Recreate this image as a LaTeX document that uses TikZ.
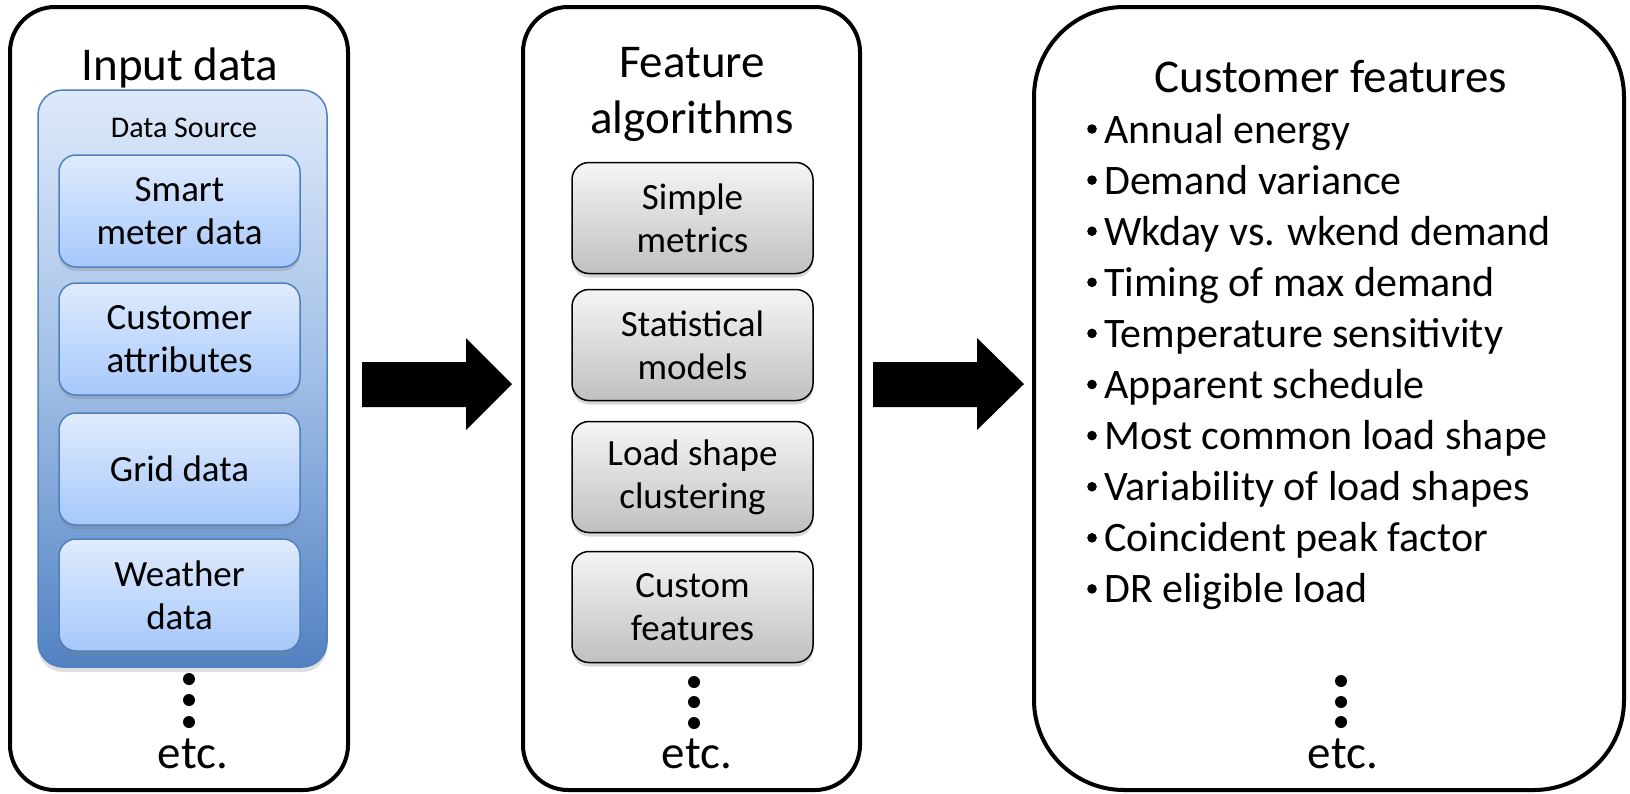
\documentclass[tikz,border=0pt]{standalone}
\usepackage{fontspec}
\setmainfont{Carlito}
\usetikzlibrary{shadows}
\definecolor{dsTop}{RGB}{222,233,250}
\definecolor{dsMid}{RGB}{160,190,230}
\definecolor{dsBot}{RGB}{82,130,195}
\definecolor{dsLine}{RGB}{79,129,189}
\definecolor{inTop}{RGB}{224,235,253}
\definecolor{inBot}{RGB}{166,200,250}
\definecolor{grTop}{RGB}{245,245,245}
\definecolor{grBot}{RGB}{192,192,192}
\begin{document}
\begin{tikzpicture}[x=1pt,y=-1pt,
  panel/.style={draw=black, line width=4pt, fill=white, minimum width=#1,
    minimum height=783pt, inner sep=0pt},
  ttl/.style={font=\fontsize{47}{56}\selectfont, inner sep=0pt, anchor=base},
  itm/.style={font=\fontsize{42}{51}\selectfont, inner sep=0pt, anchor=base west},
  dssrc/.style={draw=dsLine, line width=1.5pt, rounded corners=25pt,
    top color=dsTop, bottom color=dsBot, middle color=dsMid,
    minimum width=289pt, minimum height=577pt, inner sep=0pt,
    drop shadow={shadow xshift=0pt, shadow yshift=-5pt, opacity=0.25}},
  bluebox/.style={draw=dsLine, line width=1.5pt, rounded corners=17pt,
    top color=inTop, bottom color=inBot,
    minimum width=241pt, minimum height=112pt, inner sep=0pt, align=center,
    font=\fontsize{37}{43}\selectfont,
    drop shadow={shadow xshift=0pt, shadow yshift=-4pt, opacity=0.3}},
  graybox/.style={draw=black, line width=1.5pt, rounded corners=17pt,
    top color=grTop, bottom color=grBot,
    minimum width=241pt, minimum height=111pt, inner sep=0pt, align=center,
    font=\fontsize{37}{43}\selectfont,
    drop shadow={shadow xshift=0pt, shadow yshift=-4pt, opacity=0.3}},
  dot/.style={fill=black}
]
\useasboundingbox (0,0) rectangle (1630,793);

% panels
\node[panel=338pt, rounded corners=45pt] (p1) at (179,398.5) {};
\node[panel=337pt, rounded corners=45pt] (p2) at (691.5,398.5) {};
\node[panel=590pt, rounded corners=90pt] (p3) at (1329,398.5) {};

% panel 1
\node[ttl] (t1) at (180,80) {Input data};
\node[dssrc] (ds) at (182.5,378.5) {};
\node[font=\fontsize{30}{36}\selectfont, inner sep=0pt, anchor=base] (dsl) at (184,137) {Data Source};
\node[bluebox] (b1) at (179.5,211) {Smart\\meter data};
\node[bluebox] (b2) at (179.5,339) {Customer\\attributes};
\node[bluebox] (b3) at (179.5,469) {Grid data};
\node[bluebox] (b4) at (179.5,595) {Weather\\data};
\foreach \yy in {679,700,722} \fill[dot] (189,\yy) circle[radius=6pt];
\node[ttl] (e1) at (193,768) {etc.};

% panel 2
\node[ttl] (t2a) at (692,77) {Feature};
\node[ttl] (t2b) at (692,133) {algorithms};
\node[graybox] (g1) at (692.5,218) {Simple\\metrics};
\node[graybox] (g2) at (692.5,345) {Statistical\\models};
\node[graybox] (g3) at (692.5,477) {Load shape\\clustering};
\node[graybox] (g4) at (692.5,607) {Custom\\features};
\foreach \yy in {682,702,723} \fill[dot] (694,\yy) circle[radius=6pt];
\node[ttl] (e2) at (697,768) {etc.};

% panel 3
\node[ttl] (t3) at (1331,92) {Customer features};
\foreach \t [count=\i from 0] in {Annual energy, Demand variance, Wkday vs. wkend demand,
  Timing of max demand, Temperature sensitivity, Apparent schedule,
  Most common load shape, Variability of load shapes, Coincident peak factor,
  DR eligible load}{
  \node[itm] (f\i) at (1104,143+51.1*\i) {\t};
  \fill[dot] (1092,129+51.1*\i) circle[radius=4.8pt];
}
\foreach \yy in {681,702,722} \fill[dot] (1341,\yy) circle[radius=6pt];
\node[ttl] (e3) at (1343,768) {etc.};

% block arrows
\fill[black] (362,362) -- (466,362) -- (466,338) -- (512,384) -- (466,430) -- (466,407) -- (362,407) -- cycle;
\fill[black] (873,362) -- (977,362) -- (977,338) -- (1024,384) -- (977,430) -- (977,407) -- (873,407) -- cycle;
\end{tikzpicture}
\end{document}
